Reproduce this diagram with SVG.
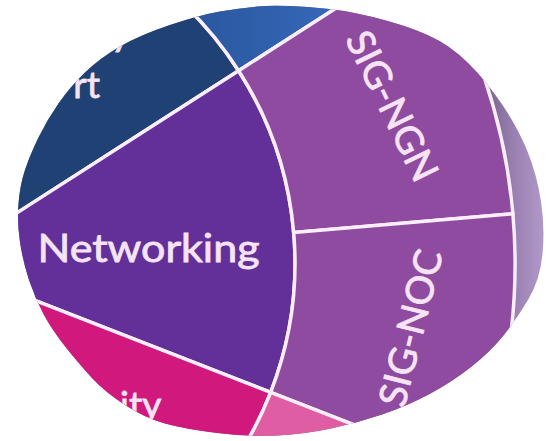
<svg xmlns="http://www.w3.org/2000/svg" width="549" height="441" viewBox="0 0 549 441">
  <style>
    .seg { stroke: #fbeefb; stroke-width: 3.5; stroke-linejoin: miter; }
    .lbl { font-family: "Lato", "Open Sans", "DejaVu Sans", sans-serif; fill: #f6e4f6; stroke: #f6e4f6; stroke-width: 0.8; }
  </style>
  <defs>
    <clipPath id="oval">
      <path d="M 257.5 6.5 Q 275 5 307.5 7 Q 340 9 372.5 17 Q 405 25 427.5 35 Q 450 45 468.5 63.5 Q 487 82 502.5 105 Q 518 128 527.5 151.5 Q 537 175 541 201.5 Q 545 228 542.5 254 Q 540 280 528 300 Q 516 320 503 336 Q 490 352 471 367 Q 452 382 429.5 394 Q 407 406 382 414.5 Q 357 423 331 428.5 Q 305 434 277.5 435.5 Q 250 437 217.5 433 Q 185 429 165 423.5 Q 145 418 125 405 Q 105 392 92.5 378.5 Q 80 365 66 347.5 Q 52 330 43.5 314 Q 35 298 29 280 Q 23 262 20 242 Q 17 222 18.5 203.5 Q 20 185 25 170 Q 30 155 38.5 137.5 Q 47 120 58.5 103.5 Q 70 87 85 72.5 Q 100 58 120 46.5 Q 140 35 170 25 Q 200 15 220 11.5 Q 240 8 257.5 6.5 Z"/>
    </clipPath>
    <linearGradient id="gOuter" x1="490" y1="0" x2="548" y2="0" gradientUnits="userSpaceOnUse">
      <stop offset="0" stop-color="#7c6a90"/>
      <stop offset="0.45" stop-color="#9c82b4"/>
      <stop offset="1" stop-color="#b39ccb"/>
    </linearGradient>
    <linearGradient id="gBlue" x1="200" y1="0" x2="330" y2="0" gradientUnits="userSpaceOnUse">
      <stop offset="0" stop-color="#2b589f"/>
      <stop offset="1" stop-color="#3568b9"/>
    </linearGradient>
  </defs>
  <rect width="549" height="441" fill="#ffffff"/>
  <g clip-path="url(#oval)">
    <rect x="0" y="0" width="549" height="441" fill="url(#gOuter)"/>
    <g id="node-support">
      <path class="seg" fill="#1f4174" d="M -61 263 L -61 -93 A 356 356 0 0 1 238.6 70.7 Z"/>
      <text class="lbl" x="111" y="46" font-size="37">y</text>
      <text class="lbl" x="100" y="98" font-size="37" text-anchor="end">rt</text>
    </g>
    <g id="node-networking">
      <path class="seg" fill="#63309a" d="M -61 263 L 238.6 70.7 A 356 356 0 0 1 270.7 392.3 Z"/>
      <text class="lbl" x="148.5" y="262" font-size="38" text-anchor="middle" textLength="222" lengthAdjust="spacingAndGlyphs">Networking</text>
    </g>
    <g id="node-security">
      <path class="seg" fill="#d1197d" d="M -61 263 L 270.7 392.3 A 356 356 0 0 1 -61 619 Z"/>
      <text class="lbl" x="120" y="418" font-size="37">ity</text>
    </g>
    <g id="node-outer-blue">
      <path class="seg" fill="url(#gBlue)" d="M -61 -93 L -61 -313 A 576 576 0 0 1 423.7 -48.2 L 238.6 70.7 A 356 356 0 0 0 -61 -93 Z"/>
    </g>
    <g id="node-sig-ngn">
      <path class="seg" fill="#8f4b9f" d="M 238.6 70.7 L 423.7 -48.2 A 576 576 0 0 1 512.9 213.8 L 293.7 232.6 A 356 356 0 0 0 238.6 70.7 Z"/>
      <text class="lbl" transform="translate(392 106) rotate(64)" x="0" y="13" font-size="38" text-anchor="middle" textLength="162" lengthAdjust="spacingAndGlyphs">SIG-NGN</text>
    </g>
    <g id="node-sig-noc">
      <path class="seg" fill="#8f4b9f" d="M 293.7 232.6 L 512.9 213.8 A 576 576 0 0 1 475.7 472.3 L 270.7 392.3 A 356 356 0 0 0 293.7 232.6 Z"/>
      <text class="lbl" transform="translate(411 328) rotate(-76)" x="0" y="13" font-size="38" text-anchor="middle" textLength="160" lengthAdjust="spacingAndGlyphs">SIG-NOC</text>
    </g>
    <g id="node-outer-pink">
      <path class="seg" fill="#df5ea3" d="M 270.7 392.3 L 475.7 472.3 A 576 576 0 0 1 -61 839 L -61 619 A 356 356 0 0 0 270.7 392.3 Z"/>
    </g>
    <g id="connectors"/>
  </g>
</svg>
